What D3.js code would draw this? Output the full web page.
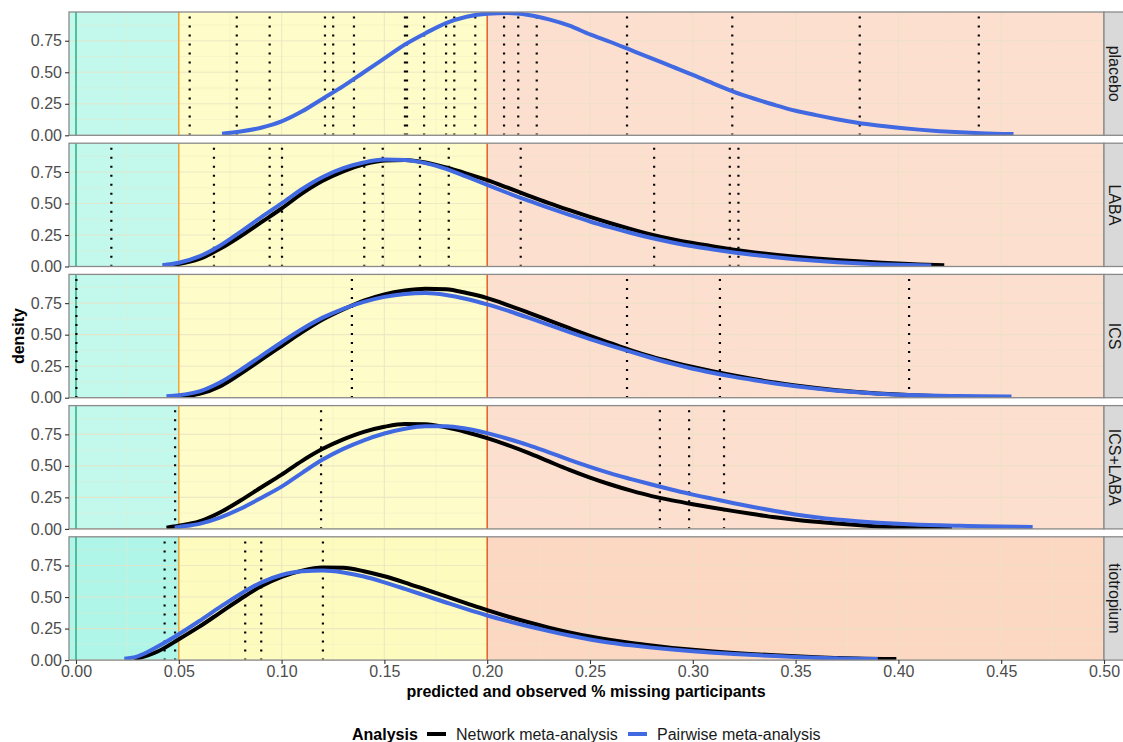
<!DOCTYPE html>
<html lang="en">
<head>
<meta charset="UTF-8">
<script src="https://cdn.jsdelivr.net/npm/d3@7"></script>
<title>density panels</title>
<style>
  body { margin: 0; background: #fff; }
  text { font-family: "Liberation Sans", Arial, Helvetica, sans-serif; }
</style>
</head>
<body>
<svg width="1123" height="742"></svg>
<script>
// ---- data ----
const panels = ["placebo", "LABA", "ICS", "ICS+LABA", "tiotropium"];
const xTicks = [0, 0.05, 0.10, 0.15, 0.20, 0.25, 0.30, 0.35, 0.40, 0.45, 0.50];
const yTicks = [0, 0.25, 0.50, 0.75];
const thresholds = [0, 0.05, 0.20];
const seriesNames = ["Network meta-analysis", "Pairwise meta-analysis"];

// observed % missing (dotted lines)
const obsPlacebo = [0.0553, 0.0782, 0.0942, 0.1211, 0.1251, 0.1352, 0.1600, 0.1610, 0.1693, 0.1800,
                    0.1840, 0.1942, 0.2082, 0.2151, 0.2241, 0.2680, 0.3192, 0.3812, 0.4391];
const obsLABA = [0.0172, 0.0671, 0.0942, 0.1002, 0.1402, 0.1492, 0.1673, 0.1813, 0.2163, 0.2812, 0.3180, 0.3222];
const obsICS = [0.0002, 0.1342, 0.2680, 0.3132, 0.4052];
const obsICSLABA = [0.0482, 0.1192, 0.2840, 0.2982, 0.3152];
const obsTio = [0.0431, 0.0482, 0.0823, 0.0901, 0.1201];

// predicted densities [x, density]
const pmaPlacebo = [[0.071,0.012],[0.08,0.03],[0.09,0.06],[0.10,0.11],[0.11,0.19],[0.12,0.29],[0.13,0.39],
  [0.14,0.50],[0.15,0.61],[0.16,0.72],[0.17,0.81],[0.18,0.89],[0.19,0.94],[0.20,0.965],[0.21,0.97],
  [0.22,0.955],[0.23,0.92],[0.24,0.87],[0.25,0.80],[0.26,0.74],[0.27,0.675],[0.28,0.61],[0.29,0.545],
  [0.30,0.48],[0.31,0.41],[0.32,0.345],[0.33,0.29],[0.34,0.24],[0.35,0.195],[0.36,0.16],[0.37,0.128],
  [0.38,0.10],[0.39,0.078],[0.40,0.06],[0.41,0.045],[0.42,0.033],[0.43,0.024],[0.44,0.017],[0.456,0.01]];

const nmaLABA = [[0.045,0.01],[0.05,0.02],[0.06,0.06],[0.07,0.14],[0.08,0.24],[0.09,0.35],[0.10,0.46],
  [0.11,0.58],[0.12,0.68],[0.13,0.755],[0.14,0.81],[0.15,0.84],[0.16,0.845],[0.17,0.825],[0.18,0.785],
  [0.19,0.737],[0.20,0.685],[0.21,0.625],[0.22,0.563],[0.23,0.503],[0.24,0.447],[0.25,0.393],[0.26,0.343],
  [0.27,0.296],[0.28,0.253],[0.29,0.217],[0.30,0.186],[0.31,0.159],[0.32,0.134],[0.33,0.112],[0.34,0.093],
  [0.35,0.077],[0.36,0.064],[0.37,0.052],[0.38,0.042],[0.39,0.032],[0.40,0.023],[0.41,0.016],[0.4223,0.01]];
const pmaLABA = [[0.042,0.01],[0.05,0.03],[0.06,0.08],[0.07,0.165],[0.08,0.275],[0.09,0.39],[0.10,0.50],
  [0.11,0.615],[0.12,0.71],[0.13,0.78],[0.14,0.825],[0.15,0.848],[0.16,0.845],[0.17,0.82],[0.18,0.775],
  [0.19,0.712],[0.20,0.647],[0.21,0.583],[0.22,0.522],[0.23,0.465],[0.24,0.41],[0.25,0.357],[0.26,0.31],
  [0.27,0.266],[0.28,0.226],[0.29,0.191],[0.30,0.16],[0.31,0.134],[0.32,0.111],[0.33,0.091],[0.34,0.073],
  [0.35,0.058],[0.36,0.045],[0.37,0.034],[0.38,0.025],[0.39,0.018],[0.40,0.013],[0.416,0.008]];

const nmaICS = [[0.048,0.005],[0.05,0.008],[0.06,0.03],[0.07,0.09],[0.08,0.19],[0.09,0.30],[0.10,0.41],
  [0.11,0.52],[0.12,0.62],[0.13,0.70],[0.14,0.77],[0.15,0.82],[0.16,0.85],[0.17,0.865],[0.18,0.86],
  [0.19,0.83],[0.20,0.79],[0.21,0.735],[0.22,0.675],[0.23,0.613],[0.24,0.551],[0.25,0.49],[0.26,0.432],
  [0.27,0.375],[0.28,0.325],[0.29,0.282],[0.30,0.243],[0.31,0.208],[0.32,0.176],[0.33,0.147],[0.34,0.12],
  [0.35,0.097],[0.36,0.077],[0.37,0.06],[0.38,0.046],[0.39,0.034],[0.40,0.025],[0.41,0.018],[0.425,0.01]];
const pmaICS = [[0.044,0.012],[0.05,0.02],[0.06,0.05],[0.07,0.12],[0.08,0.22],[0.09,0.33],[0.10,0.44],
  [0.11,0.545],[0.12,0.635],[0.13,0.705],[0.14,0.76],[0.15,0.80],[0.16,0.823],[0.17,0.83],[0.18,0.815],
  [0.19,0.783],[0.20,0.74],[0.21,0.69],[0.22,0.635],[0.23,0.577],[0.24,0.52],[0.25,0.465],[0.26,0.413],
  [0.27,0.363],[0.28,0.315],[0.29,0.27],[0.30,0.23],[0.31,0.196],[0.32,0.165],[0.33,0.138],[0.34,0.113],
  [0.35,0.091],[0.36,0.072],[0.37,0.056],[0.38,0.043],[0.39,0.032],[0.40,0.024],[0.41,0.019],[0.42,0.015],
  [0.43,0.013],[0.44,0.011],[0.455,0.009]];

const nmaICSLABA = [[0.044,0.01],[0.05,0.025],[0.06,0.06],[0.07,0.13],[0.08,0.225],[0.09,0.328],[0.10,0.43],
  [0.11,0.54],[0.12,0.635],[0.13,0.71],[0.14,0.77],[0.15,0.81],[0.16,0.832],[0.17,0.83],[0.18,0.805],
  [0.19,0.767],[0.20,0.72],[0.21,0.665],[0.22,0.603],[0.23,0.535],[0.24,0.468],[0.25,0.407],[0.26,0.352],
  [0.27,0.303],[0.28,0.26],[0.29,0.226],[0.30,0.196],[0.31,0.168],[0.32,0.141],[0.33,0.116],[0.34,0.092],
  [0.35,0.072],[0.36,0.056],[0.37,0.042],[0.38,0.03],[0.39,0.02],[0.40,0.013],[0.426,0.008]];
const pmaICSLABA = [[0.048,0.01],[0.05,0.015],[0.06,0.04],[0.07,0.09],[0.08,0.16],[0.09,0.245],[0.10,0.335],
  [0.11,0.445],[0.12,0.55],[0.13,0.635],[0.14,0.703],[0.15,0.757],[0.16,0.795],[0.17,0.815],[0.18,0.815],
  [0.19,0.795],[0.20,0.76],[0.21,0.715],[0.22,0.665],[0.23,0.607],[0.24,0.548],[0.25,0.492],[0.26,0.44],
  [0.27,0.395],[0.28,0.352],[0.29,0.311],[0.30,0.272],[0.31,0.238],[0.32,0.204],[0.33,0.172],[0.34,0.142],
  [0.35,0.115],[0.36,0.092],[0.37,0.074],[0.38,0.06],[0.39,0.049],[0.40,0.04],[0.41,0.033],[0.42,0.028],
  [0.43,0.024],[0.44,0.021],[0.4653,0.016]];

const nmaTio = [[0.028,0.01],[0.03,0.015],[0.04,0.07],[0.05,0.165],[0.06,0.265],[0.07,0.375],[0.08,0.485],
  [0.09,0.585],[0.10,0.66],[0.11,0.71],[0.12,0.735],[0.13,0.732],[0.14,0.705],[0.15,0.665],[0.16,0.615],
  [0.17,0.56],[0.18,0.505],[0.19,0.45],[0.20,0.396],[0.21,0.346],[0.22,0.30],[0.23,0.258],[0.24,0.22],
  [0.25,0.187],[0.26,0.159],[0.27,0.135],[0.28,0.115],[0.29,0.097],[0.30,0.082],[0.31,0.069],[0.32,0.057],
  [0.33,0.047],[0.34,0.038],[0.35,0.03],[0.36,0.023],[0.37,0.017],[0.38,0.012],[0.399,0.008]];
const pmaTio = [[0.0235,0.01],[0.03,0.03],[0.04,0.11],[0.05,0.205],[0.06,0.31],[0.07,0.42],[0.08,0.525],
  [0.09,0.615],[0.10,0.675],[0.11,0.705],[0.12,0.71],[0.13,0.695],[0.14,0.663],[0.15,0.617],[0.16,0.565],
  [0.17,0.511],[0.18,0.457],[0.19,0.404],[0.20,0.354],[0.21,0.309],[0.22,0.268],[0.23,0.23],[0.24,0.195],
  [0.25,0.164],[0.26,0.138],[0.27,0.117],[0.28,0.099],[0.29,0.084],[0.30,0.071],[0.31,0.059],[0.32,0.049],
  [0.33,0.04],[0.34,0.032],[0.35,0.025],[0.36,0.019],[0.37,0.014],[0.38,0.01],[0.39,0.008]];

const observed = [obsPlacebo, obsLABA, obsICS, obsICSLABA, obsTio];
const nmaCurves = [[], nmaLABA, nmaICS, nmaICSLABA, nmaTio];
const pmaCurves = [pmaPlacebo, pmaLABA, pmaICS, pmaICSLABA, pmaTio];

// ---- layout ----
const svg = d3.select('svg');
const left = 69, right = 1104, top0 = 12, pitch = 131.2, ph = 123.3;
const x = d3.scaleLinear().domain([-0.0034, 0.5]).range([left, right]);
const y = d3.scaleLinear().domain([0, 0.978]).range([ph, 0]);
const bandColors = ['#c3f8ec', '#fefcc8', '#fddfcf'];
const bandColorsLast = ['#b0f6e8', '#fdfbbe', '#fcd8c2'];   // last panel is tinted a bit stronger
const threshColors = ['#1fa684', '#f0a22c', '#e2571c'];
const seriesColors = ['#000000', '#4169e1'];
const line = d3.line().x(d => x(d[0])).y(d => y(d[1])).curve(d3.curveMonotoneX);

svg.append('defs').append('clipPath').attr('id', 'pclip')
  .append('rect').attr('x', left).attr('y', 0).attr('width', right - left).attr('height', ph);

panels.forEach((name, i) => {
  const g = svg.append('g').attr('transform', `translate(0,${top0 + i * pitch})`);

  // coloured bands
  const edges = [x.domain()[0], 0.05, 0.20, 0.5];
  const cols = i === panels.length - 1 ? bandColorsLast : bandColors;
  g.selectAll('rect.band').data(cols).join('rect').attr('class', 'band')
    .attr('x', (d, k) => x(edges[k])).attr('width', (d, k) => x(edges[k + 1]) - x(edges[k]))
    .attr('y', 0).attr('height', ph).attr('fill', d => d);

  // grid (minor + major)
  const xMinor = d3.range(0.025, 0.5, 0.05), yMinor = [0.125, 0.375, 0.625, 0.875];
  g.selectAll('line.xmin').data(xMinor).join('line').attr('class', 'xmin')
    .attr('x1', d => x(d)).attr('x2', d => x(d)).attr('y1', 0).attr('y2', ph)
    .attr('stroke', '#ece6c8').attr('stroke-opacity', 0.6).attr('stroke-width', 0.6);
  g.selectAll('line.ymin').data(yMinor).join('line').attr('class', 'ymin')
    .attr('x1', left).attr('x2', right).attr('y1', d => y(d)).attr('y2', d => y(d))
    .attr('stroke', '#ece6c8').attr('stroke-opacity', 0.6).attr('stroke-width', 0.6);
  g.selectAll('line.xmaj').data(xTicks).join('line').attr('class', 'xmaj')
    .attr('x1', d => x(d)).attr('x2', d => x(d)).attr('y1', 0).attr('y2', ph)
    .attr('stroke', '#e8e2c4').attr('stroke-opacity', 0.75).attr('stroke-width', 1.1);
  g.selectAll('line.ymaj').data(yTicks).join('line').attr('class', 'ymaj')
    .attr('x1', left).attr('x2', right).attr('y1', d => y(d)).attr('y2', d => y(d))
    .attr('stroke', '#e8e2c4').attr('stroke-opacity', 0.75).attr('stroke-width', 1.1);

  // threshold lines
  g.selectAll('line.thr').data(thresholds).join('line').attr('class', 'thr')
    .attr('x1', d => x(d)).attr('x2', d => x(d)).attr('y1', 0).attr('y2', ph)
    .attr('stroke', (d, k) => threshColors[k]).attr('stroke-width', 1.4);

  // observed dotted lines (drawn from the bottom up)
  g.selectAll('line.obs').data(observed[i]).join('line').attr('class', 'obs')
    .attr('x1', d => x(d)).attr('x2', d => x(d)).attr('y1', ph - 0.7).attr('y2', 0)
    .attr('stroke', '#000').attr('stroke-width', 2.2)
    .attr('stroke-dasharray', '2 7').attr('stroke-dashoffset', 1);

  // curves
  const cg = g.append('g').attr('clip-path', 'url(#pclip)');
  [nmaCurves[i], pmaCurves[i]].forEach((c, k) => {
    if (!c.length) return;
    cg.append('path').datum(c).attr('d', line).attr('fill', 'none')
      .attr('stroke', seriesColors[k]).attr('stroke-width', 4);
  });

  // border
  g.append('rect').attr('x', left).attr('y', 0).attr('width', right - left).attr('height', ph)
    .attr('fill', 'none').attr('stroke', '#8a8a8a').attr('stroke-width', 1.3);

  // strip
  g.append('rect').attr('x', right).attr('y', 0).attr('width', 30).attr('height', ph)
    .attr('fill', '#d9d9d9').attr('stroke', '#8a8a8a').attr('stroke-width', 1.3);
  g.append('text').attr('transform', `translate(${right + 10},${ph / 2}) rotate(90)`)
    .attr('text-anchor', 'middle').attr('dominant-baseline', 'central')
    .attr('font-size', 16).attr('fill', '#1a1a1a').text(name);

  // y axis
  const ya = g.append('g').attr('transform', `translate(${left},0)`)
    .call(d3.axisLeft(y).tickValues(yTicks).tickFormat(d3.format('.2f')).tickSize(4).tickPadding(3));
  ya.select('.domain').remove();
  ya.selectAll('line').attr('stroke', '#333').attr('stroke-width', 1.1);
  ya.selectAll('text').attr('font-size', 16).attr('fill', '#4d4d4d').attr('font-family', null);

  if (i === panels.length - 1) {
    const xa = g.append('g').attr('transform', `translate(0,${ph})`)
      .call(d3.axisBottom(x).tickValues(xTicks).tickFormat(d3.format('.2f')).tickSize(4).tickPadding(2));
    xa.select('.domain').remove();
    xa.selectAll('line').attr('stroke', '#333').attr('stroke-width', 1.1);
    xa.selectAll('text').attr('font-size', 16).attr('fill', '#4d4d4d').attr('font-family', null);
  }
});

// axis titles
svg.append('text').attr('x', (x(0) + right) / 2 - 4).attr('y', 697).attr('text-anchor', 'middle')
  .attr('font-size', 16).attr('font-weight', 'bold').attr('fill', '#000')
  .text('predicted and observed % missing participants');
svg.append('text').attr('transform', `translate(24,${top0 + (4 * pitch + ph) / 2}) rotate(-90)`)
  .attr('text-anchor', 'middle').attr('font-size', 16).attr('font-weight', 'bold').attr('fill', '#000')
  .text('density');

// legend
const lg = svg.append('g').attr('transform', 'translate(352,734)');
lg.append('text').attr('x', 0).attr('dy', '0.35em').attr('font-size', 16).attr('font-weight', 'bold').text('Analysis');
const keyX = [75, 276];
seriesNames.forEach((s, k) => {
  lg.append('line').attr('x1', keyX[k]).attr('x2', keyX[k] + 19).attr('y1', 0).attr('y2', 0)
    .attr('stroke', seriesColors[k]).attr('stroke-width', 4);
  lg.append('text').attr('x', keyX[k] + 29).attr('dy', '0.35em').attr('font-size', 16)
    .attr('fill', '#1a1a1a').text(s);
});
</script>
</body>
</html>
